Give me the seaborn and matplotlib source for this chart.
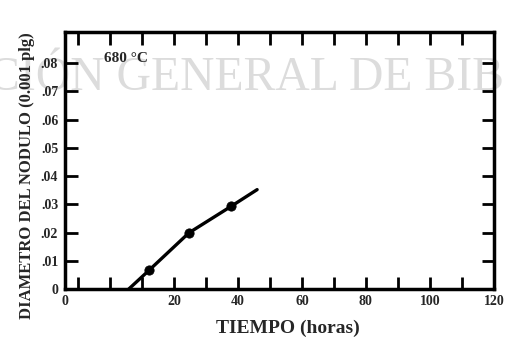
import matplotlib
matplotlib.use("Agg")
import matplotlib.pyplot as plt
import seaborn as sns
import pandas as pd
from matplotlib.ticker import MultipleLocator

# data
curve_t = [5.9, 12.2, 24.7, 37.9, 46.0]
curve_d = [0.0, 0.0066, 0.0199, 0.0293, 0.0352]
point_t = [12.2, 24.7, 37.9]
point_d = [0.0066, 0.0199, 0.0293]
x_major = [20, 40, 60, 80, 100, 120]
x_major_labels = ["20", "40", "60", "80", "100", "120"]
y_ticks = [0, 0.01, 0.02, 0.03, 0.04, 0.05, 0.06, 0.07, 0.08]
y_tick_labels = ["0", ".01", ".02", ".03", ".04", ".05", ".06", ".07", ".08"]

sns.set_style("white")
plt.rcParams["font.family"] = ["Liberation Serif", "DejaVu Serif"]

fig = plt.figure(figsize=(5.05, 3.38), dpi=100)
ax = fig.add_axes([0.129, 0.145, 0.849, 0.760])
ax.set_zorder(2)

# watermark (behind the chart)
fig.text(-12, 338 - 90, "CIÓN GENERAL DE BIB", transform=None, fontsize=34.3,
         color="#dcdcdc", ha="left", va="baseline", zorder=0,
         fontfamily="Liberation Serif")

curve = pd.DataFrame({"t": curve_t, "d": curve_d})
pts = pd.DataFrame({"t": point_t, "d": point_d})
sns.lineplot(data=curve, x="t", y="d", ax=ax, color="black", lw=2.4, sort=False)
sns.scatterplot(data=pts, x="t", y="d", ax=ax, color="black", s=45, marker="o",
                edgecolor="black", zorder=3)

xmin = -14
ax.set_xlim(xmin, 120)
ax.set_ylim(0, 0.091)
ax.set_xticks([xmin] + x_major)
ax.set_xticklabels(["0"] + x_major_labels)
ax.xaxis.set_minor_locator(MultipleLocator(10))
ax.set_yticks(y_ticks)
ax.set_yticklabels(y_tick_labels)

ax.tick_params(axis="both", which="both", direction="in", top=True, right=True,
               bottom=True, left=True, width=2, length=9, color="black",
               labelsize=10)
ax.tick_params(axis="x", which="major", pad=4)
ax.tick_params(axis="y", which="major", pad=5)
for lab in ax.get_xticklabels() + ax.get_yticklabels():
    lab.set_fontweight("bold")
for s in ax.spines.values():
    s.set_linewidth(2.5)
    s.set_color("black")

ax.set_xlabel("TIEMPO (horas)", fontsize=14, fontweight="bold")
ax.set_ylabel("DIAMETRO DEL NODULO (0.001 plg)", fontsize=12, fontweight="bold")
ax.xaxis.set_label_coords(0.52, -0.12)
ax.yaxis.set_label_coords(-0.07, 0.44)
ax.text(-2, 0.0815, "680 °C", fontsize=11, fontweight="bold", va="center")
ax.patch.set_alpha(0)

fig.savefig("out.png", dpi=100)
